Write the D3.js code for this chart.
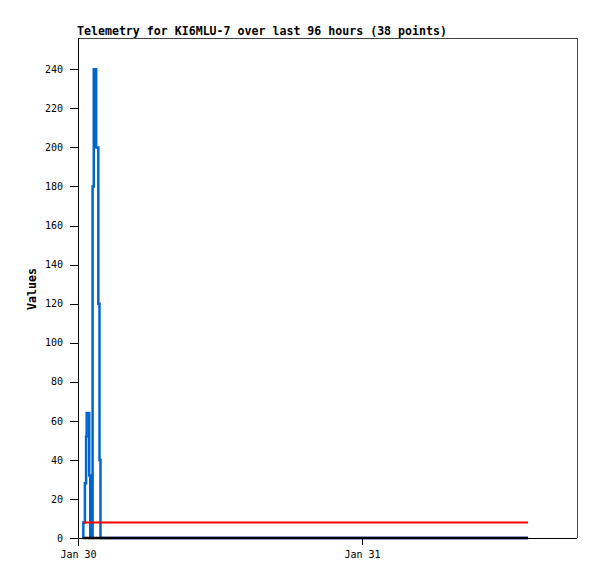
<!DOCTYPE html>
<html>
<head>
<meta charset="utf-8">
<script src="https://cdn.jsdelivr.net/npm/d3@7"></script>
<style>
  body { margin: 0; background: #fff; }
  svg { display: block; }
  text { font-family: "DejaVu Sans Mono", "Liberation Mono", monospace; }
</style>
</head>
<body>
<div class="container"></div>
<script>
const WIDTH = 597,
      HEIGHT = 579;

const TITLE = 'Telemetry for KI6MLU-7 over last 96 hours (38 points)';
const Y_LABEL = 'Values';

// time range of the x axis
const X_START = '2024-01-30T00:00',
      X_END = '2024-01-31T18:10';
const X_TICKS = ['2024-01-30T00:00', '2024-01-31T00:00'];
const Y_TICKS = [0, 20, 40, 60, 80, 100, 120, 140, 160, 180, 200, 220, 240];

// channel 1 (blue)
const blueTimes = ['2024-01-30T00:27', '2024-01-30T00:27', '2024-01-30T00:35', '2024-01-30T00:41',
                   '2024-01-30T00:44', '2024-01-30T00:57', '2024-01-30T01:02', '2024-01-30T01:14',
                   '2024-01-30T01:20', '2024-01-30T01:32', '2024-01-30T01:43', '2024-01-30T01:49',
                   '2024-01-30T01:54', '2024-01-31T14:02'];
const blueValues = [0, 8, 28, 52, 64, 32, 0, 180, 240, 200, 120, 40, 0, 0];

// channel 2 (red)
const redTimes = ['2024-01-30T00:27', '2024-01-31T14:02'];
const redValues = [8, 8];

// channel 3 (black)
const blackTimes = ['2024-01-30T00:27', '2024-01-31T14:02'];
const blackValues = [0, 0];

const parse = d3.utcParse('%Y-%m-%dT%H:%M');

var svg = d3.select('.container').append('svg')
    .attr('width', WIDTH).attr('height', HEIGHT);

var x = d3.scaleUtc().domain([parse(X_START), parse(X_END)]).range([78, 577]);
var y = d3.scaleLinear().domain([0, 256]).range([538, 38]);

// frame (top / right)
svg.append('path')
    .attr('d', 'M' + x.range()[0] + ',' + y.range()[1] + 'H' + x.range()[1] + 'V' + y.range()[0])
    .attr('fill', 'none').attr('stroke', '#444').attr('stroke-width', 1)
    .attr('shape-rendering', 'crispEdges');

// title
svg.append('text')
    .attr('x', 77).attr('y', 35)
    .attr('font-size', 11.6).attr('font-weight', 'bold')
    .text(TITLE);

// y axis
var yAxis = d3.axisLeft(y).tickValues(Y_TICKS).tickSize(8).tickPadding(7);
var gy = svg.append('g').attr('transform', 'translate(78,0)').call(yAxis);
gy.select('.domain').remove();
gy.append('line').attr('x1', 0).attr('x2', 0).attr('y1', 38).attr('y2', 546)
    .attr('stroke', '#000');
gy.selectAll('text').attr('font-family', '"DejaVu Sans Mono", monospace').attr('font-size', 10).attr('fill', '#000');
gy.selectAll('.tick line').attr('stroke', '#000');

// x axis
var xAxis = d3.axisBottom(x).tickValues(X_TICKS.map(parse)).tickSize(7).tickPadding(6)
    .tickFormat(d3.utcFormat('%b %d'));
var gx = svg.append('g').attr('transform', 'translate(0,538)').call(xAxis);
gx.select('.domain').remove();
gx.append('line').attr('x1', 70).attr('x2', 577).attr('y1', 0).attr('y2', 0)
    .attr('stroke', '#000');
gx.selectAll('text').attr('font-family', '"DejaVu Sans Mono", monospace').attr('font-size', 10).attr('fill', '#000');
gx.selectAll('.tick line').attr('stroke', '#000');

svg.selectAll('.tick line').attr('shape-rendering', 'crispEdges');
svg.selectAll('g > line').attr('shape-rendering', 'crispEdges');

// y label
svg.append('text')
    .attr('transform', 'translate(36,289) rotate(-90)')
    .attr('text-anchor', 'middle')
    .attr('font-size', 11.6).attr('font-weight', 'bold')
    .text(Y_LABEL);

function series(times, values) {
  return times.map(function(t, i) { return {t: parse(t), v: values[i]}; });
}

var line = d3.line()
    .x(function(d) { return x(d.t); })
    .y(function(d) { return y(d.v); })
    .curve(d3.curveStepAfter);

svg.append('path').datum(series(blueTimes, blueValues))
    .attr('d', line).attr('fill', 'none').attr('stroke', '#0066cc').attr('stroke-width', 2.5);

svg.append('path').datum(series(redTimes, redValues))
    .attr('d', line).attr('fill', 'none').attr('stroke', '#ff0000').attr('stroke-width', 2);

svg.append('path').datum(series(blackTimes, blackValues))
    .attr('d', line).attr('fill', 'none').attr('stroke', '#000').attr('stroke-width', 2.5);
</script>
</body>
</html>
